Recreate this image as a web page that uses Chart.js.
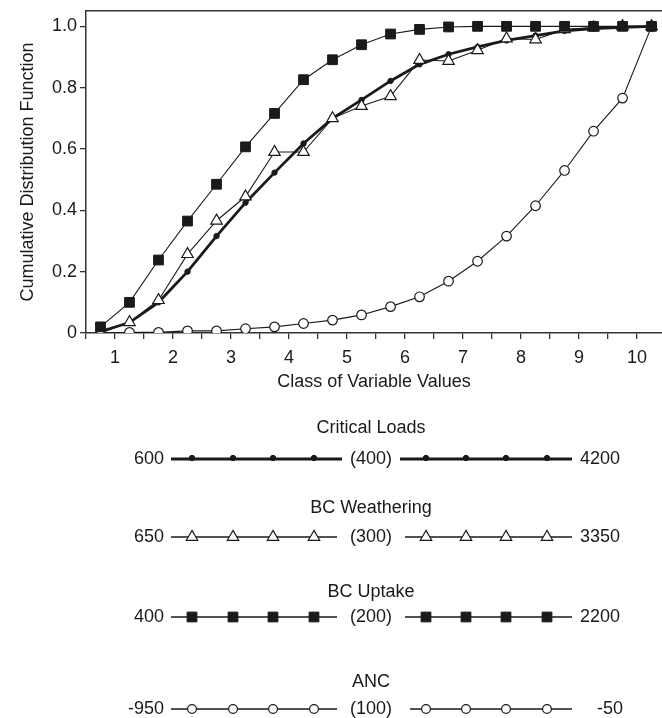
<!DOCTYPE html>
<html>
<head>
<meta charset="utf-8">
<script src="https://cdn.jsdelivr.net/npm/chart.js@4.4.0/dist/chart.umd.min.js"></script>
<style>
  html, body { margin: 0; padding: 0; background: #fff; }
</style>
</head>
<body>
<canvas id="cdfChart" width="662" height="718"></canvas>
<script>
// class midpoints (x) and CDF values per variable
const classValues = [0.75, 1.25, 1.75, 2.25, 2.75, 3.25, 3.75, 4.25, 4.75, 5.25,
                     5.75, 6.25, 6.75, 7.25, 7.75, 8.25, 8.75, 9.25, 9.75, 10.25];
const criticalLoads = [0.005, 0.034, 0.10, 0.20, 0.316, 0.425, 0.523, 0.618, 0.70, 0.76,
                       0.822, 0.876, 0.909, 0.933, 0.954, 0.97, 0.985, 0.993, 0.997, 1.0];
const bcWeathering = [0.0, 0.035, 0.107, 0.257, 0.366, 0.445, 0.59, 0.59, 0.70, 0.74,
                      0.772, 0.89, 0.887, 0.922, 0.96, 0.957, 0.99, 0.996, 1.0, 1.0];
const bcUptake = [0.02, 0.10, 0.238, 0.365, 0.485, 0.607, 0.716, 0.826, 0.891, 0.94,
                  0.975, 0.99, 0.998, 1.0, 1.0, 1.0, 1.0, 1.0, 1.0, 1.0];
const anc = [0.0, 0.002, 0.002, 0.007, 0.007, 0.014, 0.02, 0.031, 0.042, 0.059,
             0.086, 0.118, 0.169, 0.234, 0.316, 0.415, 0.53, 0.658, 0.766, 1.0];

const xTickValues = [0.5, 1, 1.5, 2, 2.5, 3, 3.5, 4, 4.5, 5, 5.5, 6, 6.5, 7, 7.5, 8, 8.5, 9, 9.5, 10];
const yTickValues = [0, 0.2, 0.4, 0.6, 0.8, 1.0];
const yTickLabels = ["0", "0.2", "0.4", "0.6", "0.8", "1.0"];

// legend: variable name, min, max, class width
const legendNames = ["Critical Loads", "BC Weathering", "BC Uptake", "ANC"];
const legendMin = [600, 650, 400, -950];
const legendMax = [4200, 3350, 2200, -50];
const legendStep = [400, 300, 200, 100];

const ink = "#1a1a1a";
Chart.defaults.font.family = "'Liberation Sans', Arial, Helvetica, sans-serif";
Chart.defaults.color = ink;

function pts(values) {
  return values.map((v, i) => ({ x: classValues[i], y: v }));
}

const styles = {
  "Critical Loads": { pointStyle: "circle", radius: 2.7, fill: ink, lineWidth: 2.8, border: 1 },
  "BC Weathering": { pointStyle: "triangle", radius: 6.6, fill: "#fff", lineWidth: 1.1, border: 1.2 },
  "BC Uptake": { pointStyle: "rect", radius: 6.9, fill: ink, lineWidth: 1.1, border: 1 },
  "ANC": { pointStyle: "circle", radius: 4.8, fill: "#fff", lineWidth: 1.1, border: 1.2 }
};

function series(name, values) {
  const s = styles[name];
  return {
    label: name,
    data: pts(values),
    borderColor: ink,
    borderWidth: s.lineWidth,
    pointStyle: s.pointStyle,
    pointRadius: s.radius,
    pointBackgroundColor: s.fill,
    pointBorderColor: ink,
    pointBorderWidth: s.border,
    tension: 0,
    fill: false
  };
}

// drop the label overhang padding so the plot frame sits where the figure has it
function noPad(s) {
  s.paddingTop = 0; s.paddingBottom = 0; s.paddingLeft = 0; s.paddingRight = 0;
}

const legendRows = {
  id: "legendRows",
  afterDraw(chart) {
    const ctx = chart.ctx;
    const titleY = [428, 508, 592, 682];
    const rowY = [459, 537, 617, 709];
    const seg1 = [171, 337], seg2 = [405, 572];
    const marks1 = [192, 233, 273, 314], marks2 = [426, 466, 506, 547];
    ctx.save();
    ctx.font = "18px 'Liberation Sans', Arial, sans-serif";
    legendNames.forEach((name, i) => {
      const s = styles[name];
      const y = rowY[i];
      ctx.fillStyle = ink;
      ctx.textBaseline = "middle";
      ctx.textAlign = "center";
      ctx.fillText(name, 371, titleY[i]);
      ctx.fillText("(" + legendStep[i] + ")", 371, y);
      ctx.textAlign = "right";
      ctx.fillText(String(legendMin[i]), 164, y);
      ctx.textAlign = "left";
      ctx.fillText(String(legendMax[i]), legendMax[i] < 0 ? 597 : 580, y);

      const a = name === "Critical Loads" ? [seg1[0], 342] : seg1;
      const b = name === "Critical Loads" ? [400, seg2[1]] : (name === "ANC" ? [410, seg2[1]] : seg2);
      ctx.strokeStyle = ink;
      ctx.lineWidth = name === "Critical Loads" ? 2.8 : 1.4;
      ctx.beginPath();
      ctx.moveTo(a[0], y); ctx.lineTo(a[1], y);
      ctx.moveTo(b[0], y); ctx.lineTo(b[1], y);
      ctx.stroke();

      const r = name === "ANC" ? 4.4 : s.radius;
      const my = name === "Critical Loads" ? y - 1 : y;
      marks1.concat(marks2).forEach(mx => {
        ctx.fillStyle = s.fill;
        ctx.strokeStyle = ink;
        ctx.lineWidth = s.border;
        Chart.helpers.drawPoint(ctx, { pointStyle: s.pointStyle, radius: r, rotation: 0, borderWidth: s.border }, mx, my);
      });
    });
    ctx.restore();
  }
};

new Chart(document.getElementById("cdfChart"), {
  type: "line",
  data: {
    datasets: [
      series("BC Uptake", bcUptake),
      series("BC Weathering", bcWeathering),
      series("Critical Loads", criticalLoads),
      series("ANC", anc)
    ]
  },
  options: {
    responsive: false,
    animation: false,
    events: [],
    layout: { autoPadding: false, padding: { left: 0, top: 11, right: 0, bottom: 325 } },
    plugins: { legend: { display: false }, tooltip: { enabled: false } },
    scales: {
      x: {
        type: "linear",
        position: "bottom",
        min: 0.5,
        max: 10.43,
        afterBuildTicks: s => { s.ticks = xTickValues.map(v => ({ value: v })); },
        afterFit: s => { s.height = 60; noPad(s); },
        ticks: {
          autoSkip: false,
          maxRotation: 0,
          padding: 8,
          font: { size: 18 },
          color: ink,
          callback: v => (Number.isInteger(v) ? String(v) : "")
        },
        grid: { drawOnChartArea: false, drawTicks: true, tickLength: 6, color: "#333", lineWidth: 1.3 },
        border: { display: true, color: "#333", width: 1.5 },
        title: { display: true, text: "Class of Variable Values", font: { size: 18 }, color: ink, padding: { top: 0, bottom: 0 } }
      },
      xTop: {
        type: "linear",
        position: "top",
        min: 0.5,
        max: 10.43,
        ticks: { display: false },
        grid: { display: false, drawTicks: false },
        border: { display: true, color: "#333", width: 1.5 },
        afterFit: s => { s.height = 0; noPad(s); }
      },
      y: {
        type: "linear",
        min: 0,
        max: 1.05,
        afterBuildTicks: s => { s.ticks = yTickValues.map(v => ({ value: v })); },
        afterFit: s => { s.width = 86; noPad(s); },
        ticks: {
          padding: 3,
          font: { size: 18 },
          color: ink,
          callback: v => yTickLabels[yTickValues.indexOf(v)]
        },
        grid: { drawOnChartArea: false, drawTicks: true, tickLength: 6, color: "#333", lineWidth: 1.3 },
        border: { display: true, color: "#333", width: 1.5 },
        title: { display: true, text: "Cumulative Distribution Function", font: { size: 18 }, color: ink, padding: { top: 17, bottom: 0 } }
      }
    }
  },
  plugins: [legendRows]
});
</script>
</body>
</html>
